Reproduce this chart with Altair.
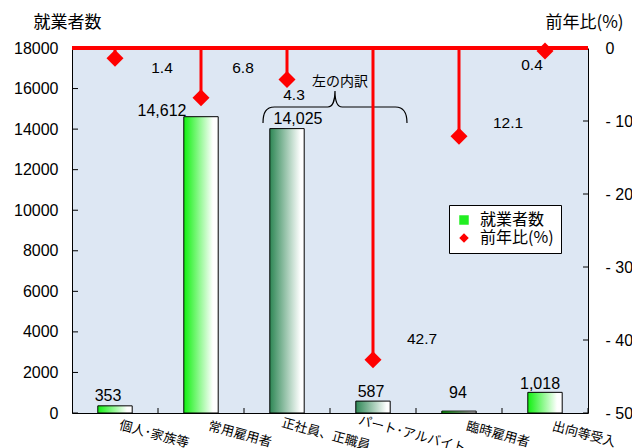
import altair as alt
import pandas as pd

# ---- data ----
categories = ["個人･家族等", "常用雇用者", "正社員、正職員", "パート･アルバイト", "臨時雇用者", "出向等受入"]
workers = [353, 14612, 14025, 587, 94, 1018]
worker_labels = ["353", "14,612", "14,025", "587", "94", "1,018"]
change = [-1.4, -6.8, -4.3, -42.7, -12.1, -0.4]
change_labels = ["1.4", "6.8", "4.3", "42.7", "12.1", "0.4"]
bar_tone = ["bright", "bright", "dark", "dark", "bright", "bright"]
series = ["就業者数", "前年比(%)"]
left_ticks = [0, 2000, 4000, 6000, 8000, 10000, 12000, 14000, 16000, 18000]
right_ticks = [0, -10, -20, -30, -40, -50]
brace_text = "左の内訳"
brace_category = "正社員、正職員"

# ---- label placement (pixel nudges, style only) ----
worker_label_nudge = [(-7, -10), (-39, -6), (11, -10), (-2, -9), (-1, -18), (-5, -8)]
change_label_nudge = [(47, 10), (42, -30), (7, 16), (49, -21), (49, -13), (-13, 14)]

W, H = 516, 365
STEP = W / len(categories)
CJK = "Noto Sans CJK JP"
LAT = "Liberation Sans"

df = pd.DataFrame({
    "cat": categories,
    "workers": workers,
    "wlabel": worker_labels,
    "change": change,
    "clabel": change_labels,
    "tone": bar_tone,
    "idx": list(range(len(categories))),
    "series": [series[1]] * len(categories),
})
lt = pd.DataFrame({"v": left_ticks})
rt = pd.DataFrame({"v": right_ticks})
ann = pd.DataFrame({"cat": [brace_category], "brace_y": [15090], "text_y": [16323], "txt": [brace_text]})

xscale = alt.Scale(domain=categories, paddingInner=0.6, paddingOuter=0.3)
yl_scale = alt.Scale(domain=[0, 18000], nice=False, zero=True)
yr_scale = alt.Scale(domain=[-50, 0], nice=False, zero=False)

ax_x = alt.Axis(title=None, labelAngle=15, labelAlign="center",
                labelBaseline="middle", labelPadding=21, labelOffset=STEP / 2 - 4, ticks=False,
                labelFont=CJK, labelFontSize=13, labelColor="black",
                domainColor="black", domainWidth=1, labelOverlap=False)
ax_yl = alt.Axis(values=left_ticks, format="d", ticks=False, labelPadding=14, labelFont=LAT,
                 labelFontSize=16, labelColor="black", domainColor="black", grid=False,
                 title="就業者数", titleAngle=0, titleX=-5, titleY=-26, titleAlign="center",
                 titleBaseline="middle", titleFont=CJK, titleFontSize=17,
                 titleFontWeight="normal", titleColor="black")
ax_yr = alt.Axis(orient="right", values=right_ticks, ticks=False, labelPadding=17,
                 labelFont=LAT, labelFontSize=16, labelColor="black", domainColor="black",
                 grid=False, labelAlign="left",
                 labelExpr="datum.value == 0 ? '0' : '- ' + abs(datum.value)",
                 title="前年比(%)", titleAngle=0, titleX=-4, titleY=-26, titleAlign="center",
                 titleBaseline="middle", titleFont=CJK, titleFontSize=17,
                 titleFontWeight="normal", titleColor="black")

X = alt.X("cat:N", scale=xscale, sort=None, axis=ax_x)

bright = alt.Gradient(gradient="linear", x1=0, x2=1, y1=0, y2=0,
                      stops=[alt.GradientStop(color="#10f010", offset=0),
                             alt.GradientStop(color="#ffffff", offset=0.85)])
dark = alt.Gradient(gradient="linear", x1=0, x2=1, y1=0, y2=0,
                    stops=[alt.GradientStop(color="#2e8755", offset=0),
                           alt.GradientStop(color="#ffffff", offset=0.9)])

base = alt.Chart(df)
Yl = alt.Y("workers:Q", scale=yl_scale, axis=ax_yl)

bars_b = base.mark_bar(fill=bright, stroke="black", strokeWidth=1).encode(x=X, y=Yl).transform_filter(alt.datum.tone == "bright")
bars_d = base.mark_bar(fill=dark, stroke="black", strokeWidth=1).encode(x=X, y=Yl).transform_filter(alt.datum.tone == "dark")

wlabels = []
for i, (dx, dy) in enumerate(worker_label_nudge):
    wlabels.append(
        base.mark_text(font=LAT, fontSize=16, color="black", align="center", baseline="middle", dx=dx, dy=dy)
        .encode(x=X, y=Yl, text="wlabel:N").transform_filter(alt.datum.idx == i)
    )

lticks = alt.Chart(lt).mark_rule(color="black", strokeWidth=1).encode(
    y=alt.Y("v:Q", scale=yl_scale, axis=ax_yl), x=alt.value(0), x2=alt.value(6))
bticks = base.mark_rule(color="black", strokeWidth=1, xOffset=STEP / 2).encode(
    x=X, y=alt.value(H - 5), y2=alt.value(H))

brace_path = ("M -1 0.222 C -1 0.08 -0.96 0 -0.84 0 L -0.1 0 C -0.03 0 0 -0.1 0 -0.222 "
              "C 0 -0.1 0.03 0 0.1 0 L 0.84 0 C 0.96 0 1 0.08 1 0.222")
brace = alt.Chart(ann).mark_point(shape=brace_path, size=20736, filled=False, fill=None,
                                  stroke="black", strokeWidth=1.2, opacity=1,
                                  xOffset=STEP / 2 + 5).encode(
    x=X, y=alt.Y("brace_y:Q", scale=yl_scale, axis=ax_yl))
brace_lbl = alt.Chart(ann).mark_text(font=CJK, fontSize=14, color="black", align="center",
                                     baseline="middle", dx=STEP / 2 + 10).encode(
    x=X, y=alt.Y("text_y:Q", scale=yl_scale, axis=ax_yl), text="txt:N")

left = alt.layer(bars_b, bars_d, *wlabels, lticks, bticks, brace, brace_lbl)

Yr = alt.Y("change:Q", scale=yr_scale, axis=ax_yr)
vlines = base.mark_rule(color="#ff0000", strokeWidth=3).encode(x=X, y=Yr, y2=alt.datum(0))
zero_line = alt.Chart(rt).transform_filter(alt.datum.v == 0).mark_rule(color="#ff0000", strokeWidth=4).encode(
    y=alt.Y("v:Q", scale=yr_scale, axis=ax_yr))
legend = alt.Legend(title=None, orient="none", legendX=377, legendY=157, fillColor="white",
                    strokeColor="black", padding=7, labelFont=CJK, labelFontSize=16,
                    labelColor="black", symbolSize=90, rowPadding=2, labelOffset=8,
                    symbolStrokeWidth=0, cornerRadius=0)
points = base.mark_point(filled=True, size=290, opacity=1).encode(
    x=X, y=Yr,
    color=alt.Color("series:N", scale=alt.Scale(domain=series, range=["#22ee22", "#ff0000"]), legend=legend),
    shape=alt.Shape("series:N", scale=alt.Scale(domain=series, range=["square", "diamond"]), legend=legend),
)
clabels = []
for i, (dx, dy) in enumerate(change_label_nudge):
    clabels.append(
        base.mark_text(font=LAT, fontSize=15.5, color="black", align="center", baseline="middle", dx=dx, dy=dy)
        .encode(x=X, y=Yr, text="clabel:N").transform_filter(alt.datum.idx == i)
    )
rticks = alt.Chart(rt).mark_rule(color="black", strokeWidth=1).encode(
    y=alt.Y("v:Q", scale=yr_scale, axis=ax_yr), x=alt.value(W - 5), x2=alt.value(W))

right = alt.layer(rticks, vlines, zero_line, points, *clabels)

chart = alt.layer(left, right).resolve_scale(y="independent").properties(
    width=W, height=H,
    autosize=alt.AutoSizeParams(type="none"),
    padding={"left": 64, "top": 40, "right": 44, "bottom": 35},
).configure_view(fill="#dde7f3", stroke=None).configure_axis(grid=False)

chart.save("out.html", embed_options={"renderer": "svg", "actions": False})
